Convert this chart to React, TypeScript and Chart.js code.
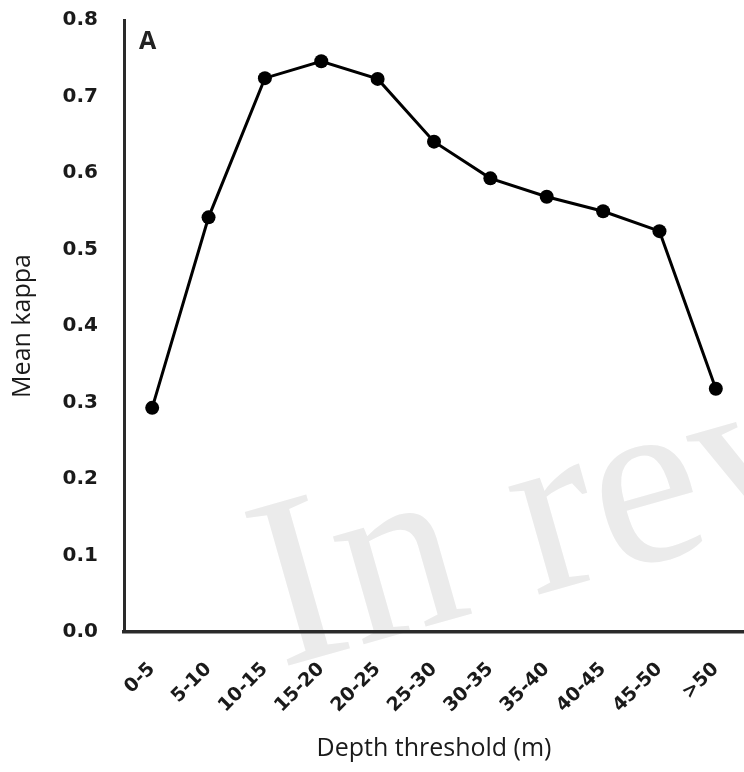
import React, { useEffect, useRef } from "react";
import { Chart, registerables } from "chart.js";

Chart.register(...registerables);

const categories = ["0-5", "5-10", "10-15", "15-20", "20-25", "25-30", "30-35", "35-40", "40-45", "45-50", ">50"];
const meanKappa = [0.293, 0.542, 0.724, 0.746, 0.723, 0.641, 0.593, 0.569, 0.55, 0.524, 0.318];
const yTicks = [0, 0.1, 0.2, 0.3, 0.4, 0.5, 0.6, 0.7, 0.8];
const panelLabel = "A";
const watermark = "In review";
const xTitle = "Depth threshold (m)";
const yTitle = "Mean kappa";

const overlayPlugin = {
  id: "overlay",
  beforeDraw(chart: any) {
    const ctx = chart.ctx;
    ctx.save();
    ctx.fillStyle = "#fff";
    ctx.fillRect(0, 0, chart.width, chart.height);
    ctx.translate(280, 668);
    ctx.rotate(-0.277);
    ctx.font = '244px "Liberation Serif"';
    ctx.fillStyle = "#ebebeb";
    ctx.textBaseline = "alphabetic";
    ctx.textAlign = "left";
    ctx.fillText(watermark, 0, 0);
    ctx.restore();
  },
  afterDraw(chart: any) {
    const ctx = chart.ctx;
    ctx.save();
    ctx.font = 'bold 25px "Open Sans"';
    ctx.fillStyle = "#222";
    ctx.textBaseline = "middle";
    ctx.textAlign = "left";
    ctx.fillText(panelLabel, 139, 42);
    ctx.restore();
  },
};

export default function App() {
  const ref = useRef<HTMLCanvasElement>(null);
  useEffect(() => {
    if (!ref.current) return;
    const chart = new Chart(ref.current, {
      type: "line",
      data: {
        labels: categories,
        datasets: [
          {
            data: meanKappa,
            borderColor: "#000",
            backgroundColor: "#000",
            borderWidth: 3,
            pointRadius: 7,
            pointBackgroundColor: "#000",
            pointBorderWidth: 0,
            tension: 0,
            clip: false,
          },
        ],
      },
      options: {
        animation: false,
        responsive: false,
        maintainAspectRatio: false,
        layout: { autoPadding: false, padding: { top: 20, right: -2, left: 0, bottom: 0 } },
        plugins: { legend: { display: false }, tooltip: { enabled: false } },
        scales: {
          x: {
            offset: true,
            grid: { display: false, drawTicks: false },
            border: { display: true, color: "#2a2a2a", width: 3.5 },
            ticks: {
              color: "#1a1a1a",
              font: { family: "DejaVu Sans", size: 19, weight: "bold" },
              maxRotation: 45,
              minRotation: 45,
              padding: 26,
              autoSkip: false,
            },
            title: {
              display: true,
              text: xTitle,
              color: "#1a1a1a",
              font: { family: "Open Sans", size: 25 },
              padding: { top: 0, bottom: 8 },
            },
            afterFit(scale: any) {
              scale.height = 140;
              scale.paddingLeft = 0;
              scale.paddingRight = 0;
            },
          },
          y: {
            min: 0,
            max: 0.8,
            afterBuildTicks(scale: any) {
              scale.ticks = yTicks.map((v) => ({ value: v }));
            },
            grid: { display: false, drawTicks: false },
            border: { display: true, color: "#2a2a2a", width: 3 },
            ticks: {
              color: "#1a1a1a",
              font: { family: "DejaVu Sans", size: 20, weight: "bold" },
              padding: 26,
              callback: (v: any) => Number(v).toFixed(1),
            },
            title: {
              display: true,
              text: yTitle,
              color: "#1a1a1a",
              font: { family: "Open Sans", size: 25 },
              padding: { top: 8, bottom: 0 },
            },
            afterFit(scale: any) {
              scale.width = 124;
              scale.paddingTop = 0;
              scale.paddingBottom = 0;
            },
          },
        },
      },
      plugins: [overlayPlugin],
    });
    return () => chart.destroy();
  }, []);
  return (
    <div style={{ position: "fixed", left: 0, top: 0, width: 744, height: 772, background: "#fff", overflow: "hidden" }}>
      <canvas ref={ref} width={744} height={772} style={{ width: 744, height: 772, display: "block" }} />
    </div>
  );
}
